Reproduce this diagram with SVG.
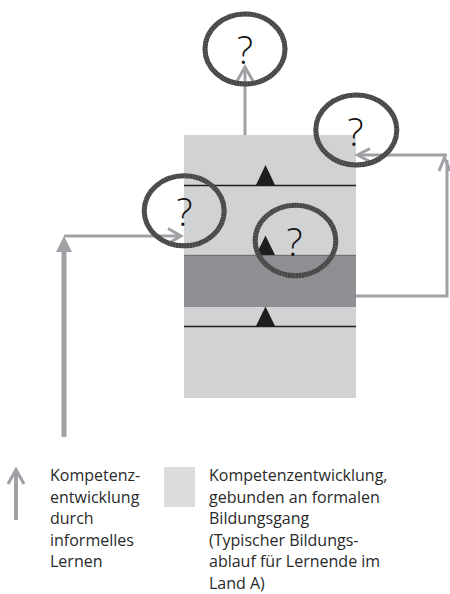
<svg xmlns="http://www.w3.org/2000/svg" width="450" height="594" viewBox="0 0 450 594">
  <defs>
    <style>
      .conn { fill: none; stroke: #a0a1a5; stroke-width: 3; }
      .head { fill: none; stroke: #a0a1a5; stroke-width: 3; stroke-linecap: butt; stroke-linejoin: miter; }
      .ring { fill: none; stroke: #454545; stroke-width: 5; }
      .ring-tick { fill: none; stroke: #6e6e6e; stroke-width: 5; stroke-dasharray: 0.6 2.2; }
      .q { font-family: "Open Sans", "Noto Sans", sans-serif; font-size: 38px; fill: #111; text-anchor: middle; font-weight: 300; }
      .legend { font-family: "Open Sans", "Noto Sans", sans-serif; font-size: 16px; fill: #2a2a2a; }
      .rule { stroke: #1e1e1e; stroke-width: 1.5; }
      .tri { fill: #1e1e1e; }
    </style>
  </defs>

  <!-- formal education track: stacked block with stages -->
  <g id="bildungsgang">
    <rect x="184" y="135" width="172" height="263" fill="#d1d2d4"/>
    <rect x="184" y="255" width="172" height="52" fill="#8e8f93"/>
    <line class="rule" x1="184" y1="185.5" x2="356" y2="185.5"/>
    <line class="rule" x1="184" y1="326.5" x2="356" y2="326.5"/>
    <line x1="184" y1="255.3" x2="356" y2="255.3" stroke="#6a6b6e" stroke-width="1"/>
    <polygon class="tri" points="256,185 275,185 265.5,165"/>
    <polygon class="tri" points="256,255 275,255 265.5,235.5"/>
    <polygon class="tri" points="256,326 275,326 265.5,306.5"/>
  </g>

  <!-- connectors -->
  <g id="connectors">
    <!-- up from the top of the block -->
    <line class="conn" x1="245" y1="135" x2="245" y2="68"/>
    <polyline class="head" points="237,81 245,67 253,81"/>

    <!-- informal learning from the left -->
    <line x1="64" y1="437" x2="64" y2="248" stroke="#a0a1a5" stroke-width="5"/>
    <polygon points="64,236 72,252 56,252" fill="#a0a1a5"/>
    <line class="conn" x1="64" y1="236" x2="180" y2="236"/>
    <polyline class="head" points="168,228.5 181,236 168,243.5"/>

    <!-- loop on the right from the dark band -->
    <polyline class="conn" points="356,296 447,296 447,160"/>
    <polyline class="head" points="439,171 444.5,157.5 450,171"/>
    <line class="conn" x1="447" y1="155" x2="359" y2="155"/>
    <polyline class="head" points="370,148.5 357.5,155 370,161.5"/>
  </g>

  <!-- open questions -->
  <g id="frage-oben">
    <ellipse class="ring" cx="245" cy="49" rx="40" ry="35"/>
    <ellipse class="ring-tick" cx="245" cy="49" rx="40" ry="35"/>
    <text class="q" x="245" y="64">?</text>
  </g>
  <g id="frage-rechts">
    <ellipse class="ring" cx="356.3" cy="130" rx="40.5" ry="35"/>
    <ellipse class="ring-tick" cx="356.3" cy="130" rx="40.5" ry="35"/>
    <text class="q" x="355.5" y="146">?</text>
  </g>
  <g id="frage-links">
    <ellipse class="ring" cx="184.2" cy="210.8" rx="40" ry="35"/>
    <ellipse class="ring-tick" cx="184.2" cy="210.8" rx="40" ry="35"/>
    <text class="q" x="184.5" y="226">?</text>
  </g>
  <g id="frage-mitte">
    <ellipse class="ring" cx="295.5" cy="240.5" rx="40.3" ry="35.3"/>
    <ellipse class="ring-tick" cx="295.5" cy="240.5" rx="40.3" ry="35.3"/>
    <text class="q" x="294.5" y="256">?</text>
  </g>

  <!-- legend -->
  <g id="legende-informell">
    <line x1="16" y1="520" x2="16" y2="471" stroke="#a0a1a5" stroke-width="4"/>
    <polyline points="8,484 16,469.5 24,484" fill="none" stroke="#a0a1a5" stroke-width="3"/>
    <text class="legend" x="50">
      <tspan x="50" y="481">Kompetenz-</tspan>
      <tspan x="50" y="502.5">entwicklung</tspan>
      <tspan x="50" y="524">durch</tspan>
      <tspan x="50" y="545.5">informelles</tspan>
      <tspan x="50" y="567">Lernen</tspan>
    </text>
  </g>
  <g id="legende-formal">
    <rect x="164" y="467" width="31" height="40" fill="#dcdcde"/>
    <text class="legend" x="209">
      <tspan x="209" y="481">Kompetenzentwicklung,</tspan>
      <tspan x="209" y="502.5">gebunden an formalen</tspan>
      <tspan x="209" y="524">Bildungsgang</tspan>
      <tspan x="209" y="545.5">(Typischer Bildungs-</tspan>
      <tspan x="209" y="567">ablauf für Lernende im</tspan>
      <tspan x="209" y="588.5">Land A)</tspan>
    </text>
  </g>
</svg>
